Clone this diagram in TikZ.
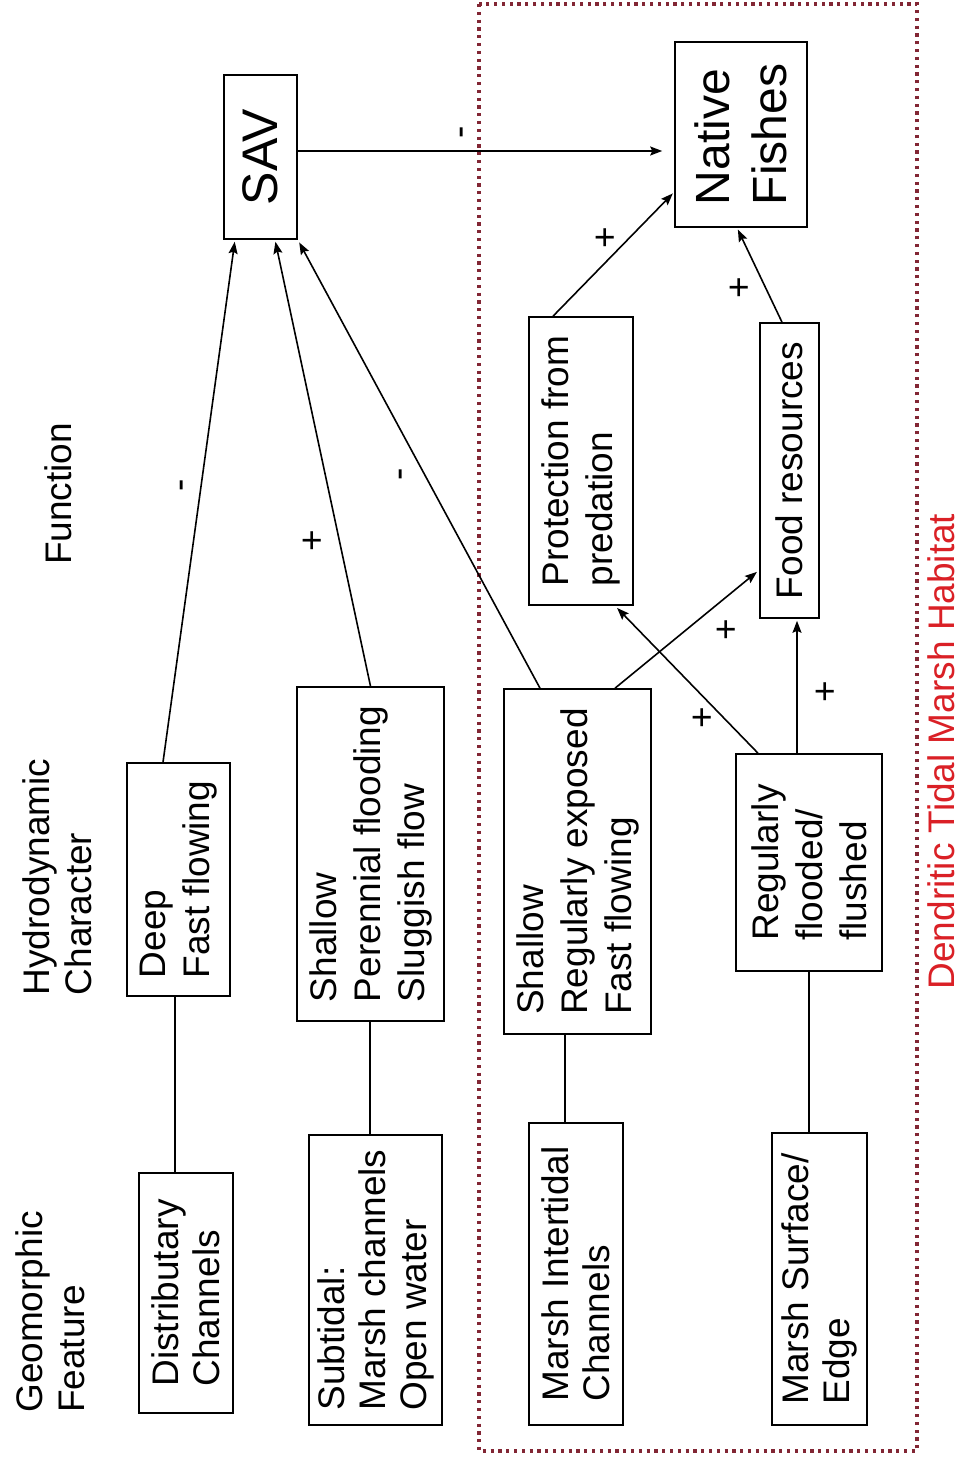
\documentclass[tikz,border=0pt]{standalone}
\usepackage{fontspec}
\setmainfont{Liberation Sans}
\usetikzlibrary{arrows.meta,calc}
\definecolor{marshred}{RGB}{218,32,38}
\definecolor{dotred}{RGB}{130,38,52}
\begin{document}
\begin{tikzpicture}[x=1pt,y=-1pt,
  box/.style={draw, line width=1.6pt, rotate=90, align=left, inner sep=0pt, font=\fontsize{37}{44}\selectfont},
  gbox/.style={box, font=\fontsize{37}{41}\selectfont},
  head/.style={rotate=90, align=left, inner sep=0pt, font=\fontsize{37}{42}\selectfont},
  sign/.style={rotate=90, inner sep=0pt, font=\fontsize{37}{44}\selectfont},
  conn/.style={line width=1.6pt},
  arr/.style={line width=1.6pt, -{Stealth[length=12pt,width=9pt,inset=2pt]}}]

\useasboundingbox (0,0) rectangle (965,1458);
\fill[white] (0,0) rectangle (965,1458);

% habitat frame
\draw[dotred, line width=3.2pt, dash pattern=on 3.2pt off 4.6pt] (479,4) rectangle (917,1451);

% headers
\node[head] (geo) at (50,1312) {Geomorphic\\Feature};
\node[head] (hydro) at (57,877) {Hydrodynamic\\Character};
\node[head] (func) at (58.5,494) {Function};
\node[head, text=marshred] (hab) at (941,751.5) {Dendritic Tidal Marsh Habitat};

% function level
\node[box, minimum width=164pt, minimum height=73pt, font=\fontsize{50}{58}\selectfont] (sav) at (260.5,157) {SAV};
\node[box, minimum width=185pt, minimum height=132pt, font=\fontsize{48}{57}\selectfont] (fish) at (741,134.5) {Native\\Fishes};
\node[box, minimum width=288pt, minimum height=104pt] (prot) at (581,461) {Protection from\\predation};
\node[box, minimum width=295pt, minimum height=59pt] (food) at (789.5,470.5) {Food resources};

% hydrodynamic level
\node[box, minimum width=233pt, minimum height=103pt] (deep) at (178.5,879.5) {Deep\\Fast flowing};
\node[box, minimum width=334pt, minimum height=147pt] (perenn) at (370.5,854) {Shallow\\Perennial flooding\\Sluggish flow};
\node[box, minimum width=345pt, minimum height=147pt] (expo) at (577.5,861.5) {Shallow\\Regularly exposed\\Fast flowing};
\node[box, minimum width=217pt, minimum height=146pt] (flood) at (809,862.5) {Regularly\\flooded/\\flushed};

% geomorphic level
\node[gbox, minimum width=240pt, minimum height=94pt] (dist) at (186,1293) {Distributary\\Channels};
\node[gbox, minimum width=290pt, minimum height=133pt] (subt) at (375.5,1280) {Subtidal:\\Marsh channels\\Open water};
\node[gbox, minimum width=302pt, minimum height=94pt] (inter) at (576,1274) {Marsh Intertidal\\Channels};
\node[gbox, minimum width=292pt, minimum height=95pt] (surf) at (819.5,1279) {Marsh Surface/\\Edge};

% geomorphic -> hydrodynamic
\draw[conn] ([xshift=-11pt]dist.east) -- ([xshift=-3.5pt]deep.west);
\draw[conn] ([xshift=-5.5pt]subt.east) -- ([xshift=-0.5pt]perenn.west);
\draw[conn] ([xshift=-11pt]inter.east) -- ([xshift=-12.5pt]expo.west);
\draw[conn] ([xshift=-10.5pt]surf.east) -- (flood.west);

% arrows
\draw[arr, shorten >=2pt] ([xshift=-15.5pt]deep.east) -- ([xshift=-25.5pt]sav.west);
\draw[arr, shorten >=2pt] (perenn.east) -- ([xshift=14.5pt]sav.west);
\draw[arr, shorten >=3pt] ([xshift=-37.5pt]expo.east) -- (sav.south west);
\draw[arr, shorten >=12pt] ([yshift=6pt]sav.south) -- ([yshift=-16.5pt]fish.north);
\draw[arr, shorten >=3pt] ([xshift=37.5pt]expo.east) -- ([yshift=-99.5pt]food.north);
\draw[arr, shorten >=3pt] ([xshift=-51pt]flood.east) -- ([xshift=34pt]prot.west);
\draw[arr, shorten >=2pt] ([xshift=-12pt]flood.east) -- ([xshift=7.5pt]food.west);
\draw[arr, shorten >=2pt] ([xshift=-28pt]prot.east) -- ([yshift=-57.5pt]fish.north);
\draw[arr, shorten >=2pt] ([xshift=-7.5pt]food.east) -- ([xshift=-4pt]fish.west);

% signs
\node[sign] (s1) at (186,485) {-};
\node[sign] (s2) at (314,541) {+};
\node[sign] (s3) at (405,474) {-};
\node[sign] (s4) at (466,132) {-};
\node[sign] (s5) at (607,238) {+};
\node[sign] (s6) at (741,288) {+};
\node[sign] (s7) at (728,630) {+};
\node[sign] (s8) at (704,718) {+};
\node[sign] (s9) at (827,692) {+};
\end{tikzpicture}
\end{document}
